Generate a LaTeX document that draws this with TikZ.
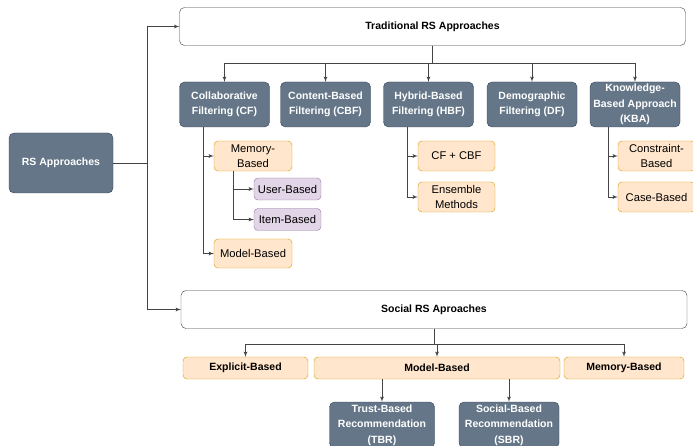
\documentclass[tikz,border=0pt]{standalone}
\usepackage{fontspec}
\setmainfont{Liberation Sans}
\usetikzlibrary{arrows}

\definecolor{slate}{HTML}{647687}
\definecolor{slateline}{HTML}{314354}
\definecolor{peach}{HTML}{FFE6CC}
\definecolor{peachline}{HTML}{D79B00}
\definecolor{lilac}{HTML}{E1D5E7}
\definecolor{lilacline}{HTML}{9673A6}
\definecolor{linegray}{HTML}{444444}

\newcommand\labelbold{\fontsize{10.5}{15.5}\selectfont\bfseries}
\newcommand\labelplain{\fontsize{11.2}{14.5}\selectfont}

\begin{document}
\begin{tikzpicture}[x=1pt,y=-1pt]

\tikzset{darkbox/.style = {shape=rectangle,rounded corners=5pt,draw=slateline,fill=slate,text=white,font=\labelbold,align=center,inner sep=1pt,minimum width=90pt,minimum height=45pt}}
\tikzset{whitebox/.style = {shape=rectangle,rounded corners=5pt,draw=black!75,fill=white,font=\labelbold,minimum width=506pt,minimum height=38pt}}
\tikzset{orangebox/.style = {shape=rectangle,rounded corners=4pt,draw=peachline,fill=peach,font=\labelplain,align=center,inner sep=1pt,minimum width=78pt,minimum height=30pt}}
\tikzset{purplebox/.style = {shape=rectangle,rounded corners=4pt,draw=lilacline,fill=lilac,font=\labelplain,align=center,inner sep=1pt,minimum width=67pt,minimum height=22pt}}
\tikzset{edge/.style = {->,> = latex',draw=linegray,line width=0.8pt}}

\path[use as bounding box, clip] (0,0) rectangle (693,446);

%boxes
\node[darkbox, minimum width=104pt, minimum height=60pt] (rs) at (61,163) {RS Approaches};
\node[whitebox] (trad) at (432.5,26.5) {Traditional RS Approaches};
\node[whitebox] (social) at (434,309.5) {Social RS Aproaches};

\node[darkbox] (cf) at (224.5,104.5) {Collaborative\\Filtering (CF)};
\node[darkbox] (cbf) at (325.5,104.5) {Content-Based\\Filtering (CBF)};
\node[darkbox] (hbf) at (428.5,104.5) {Hybrid-Based\\Filtering (HBF)};
\node[darkbox] (df) at (532,104.5) {Demographic\\Filtering (DF)};
\node[darkbox] (kba) at (635,104.5) {Knowledge-\\Based Approach\\(KBA)};

\node[orangebox] (cfmem) at (253,156) {Memory-\\Based};
\node[purplebox] (user) at (287.5,189) {User-Based};
\node[purplebox] (item) at (287.5,219.5) {Item-Based};
\node[orangebox, minimum height=29pt] (cfmodel) at (253,253.5) {Model-Based};

\node[orangebox, minimum width=77pt] (cfcbf) at (456.5,156) {CF + CBF};
\node[orangebox, minimum width=77pt] (ensemble) at (456.5,197) {Ensemble\\Methods};

\node[orangebox, minimum width=77pt] (constraint) at (656.5,156) {Constraint-\\Based};
\node[orangebox, minimum width=77pt] (case) at (656.5,197) {Case-Based};

\node[orangebox, font=\labelbold, minimum width=125pt, minimum height=22pt] (explicit) at (245.5,368) {Explicit-Based};
\node[orangebox, font=\labelbold, minimum width=246pt, minimum height=22pt] (smodel) at (437,368) {Model-Based};
\node[orangebox, font=\labelbold, minimum width=120pt, minimum height=22pt] (smemory) at (624,368) {Memory-Based};

\node[darkbox, minimum width=105pt, minimum height=46pt] (tbr) at (382,425) {Trust-Based\\Recommendation\\(TBR)};
\node[darkbox, minimum width=100pt, minimum height=46pt] (sbr) at (509,425) {Social-Based\\Recommendation\\(SBR)};

%connectors
\coordinate (trunk) at (147,163);
\draw[draw=linegray,line width=0.8pt] (rs) -- (trunk);
\draw[edge] (trunk) |- (trad);
\draw[edge] (trunk) |- (social);

\foreach \n in {cf,cbf,hbf,df,kba}
  \draw[edge] (trad.south) -- ++(0,18) -| (\n);

\coordinate (cfdrop) at (203,127);
\draw[edge] (cfdrop) |- (cfmem);
\draw[edge] (cfdrop) |- (cfmodel);
\coordinate (memdrop) at (233,171);
\draw[edge] (memdrop) |- (user);
\draw[edge] (memdrop) |- (item);

\coordinate (hbfdrop) at (407,127);
\draw[edge] (hbfdrop) |- (cfcbf);
\draw[edge] (hbfdrop) |- (ensemble);

\coordinate (kbadrop) at (608,127);
\draw[edge] (kbadrop) |- (constraint);
\draw[edge] (kbadrop) |- (case);

\foreach \n in {explicit,smodel,smemory}
  \draw[edge] (social.south) -- ++(0,16) -| (\n);

\draw[edge] (smodel.south -| tbr.north) -- (tbr);
\draw[edge] (smodel.south -| sbr.north) -- (sbr);

\end{tikzpicture}
\end{document}
